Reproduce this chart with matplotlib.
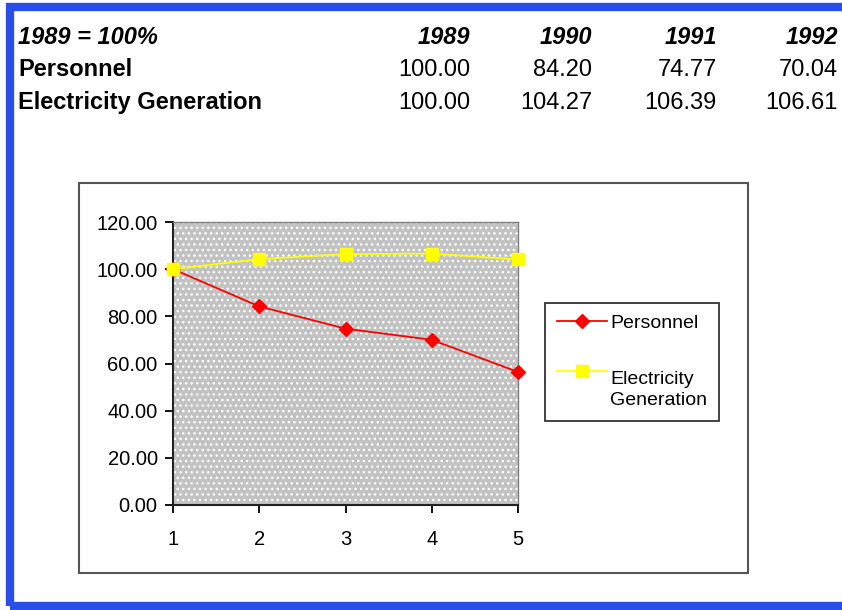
import matplotlib.pyplot as plt
from matplotlib.patches import Rectangle
from matplotlib.legend_handler import HandlerLine2D

# index values, 1989 = 100%
years = [1989, 1990, 1991, 1992]
personnel = [100.00, 84.20, 74.77, 70.04, 56.40]
electricity = [100.00, 104.27, 106.39, 106.61, 104.10]
series_names = ["Personnel", "Electricity Generation"]
legend_names = ["Personnel", "Electricity\nGeneration"]
periods = list(range(1, len(personnel) + 1))

W, H = 842, 610
fig = plt.figure(figsize=(W / 100, H / 100), dpi=100)
plt.rcParams['font.family'] = ['Liberation Sans', 'DejaVu Sans']


def fx(x):
    return x / W


def fy(y):
    return 1 - y / H


# sheet border
fig.add_artist(Rectangle((fx(9.5), fy(606)), fx(900), 599 / H, transform=fig.transFigure,
                         fill=False, edgecolor='#2a4ee8', lw=6))

# table above the chart
fs_tab = 17
fig.text(fx(18), fy(37), "1989 = 100%", fontsize=fs_tab, fontweight='bold', fontstyle='italic',
         va='center', ha='left')
fig.text(fx(18), fy(70), series_names[0], fontsize=fs_tab, fontweight='bold', va='center', ha='left')
fig.text(fx(18), fy(103), series_names[1], fontsize=fs_tab, fontweight='bold', va='center', ha='left')
col_right = [470, 592, 717, 838]
for i, yr in enumerate(years):
    fig.text(fx(col_right[i]), fy(37), str(yr), fontsize=fs_tab, fontweight='bold', fontstyle='italic',
             va='center', ha='right')
    fig.text(fx(col_right[i]), fy(70), "%.2f" % personnel[i], fontsize=fs_tab, va='center', ha='right')
    fig.text(fx(col_right[i]), fy(103), "%.2f" % electricity[i], fontsize=fs_tab, va='center', ha='right')

# chart frame
fig.add_artist(Rectangle((fx(79), fy(573)), 669 / W, 390 / H, transform=fig.transFigure,
                         fill=False, edgecolor='#555555', lw=1.5))

ax = fig.add_axes([fx(173), fy(505), 345 / W, 283 / H])
ax.patch.set_visible(False)
ax.add_patch(Rectangle((0, 0), 1, 1, transform=ax.transAxes, facecolor='#c2c2c2',
                       edgecolor='white', hatch='...', lw=0, zorder=0))

ax.plot(periods, personnel, color='#ff0000', lw=1.3, marker='D', markersize=7.5,
        clip_on=False, zorder=3, label=legend_names[0])
ax.plot(periods, electricity, color='#ffff00', lw=1.3, marker='s', markersize=8.5,
        clip_on=False, zorder=3, label=legend_names[1])

ax.set_xlim(1, 5)
ax.set_ylim(0, 120)
ax.set_xticks(periods)
ax.set_yticks(range(0, 121, 20))
ax.set_yticklabels(["%.2f" % v for v in range(0, 121, 20)])
ax.tick_params(axis='both', direction='out', length=6, width=1.3, labelsize=14.5, colors='black')
ax.tick_params(axis='x', pad=12)
ax.tick_params(axis='y', pad=5)
for s in ['left', 'bottom']:
    ax.spines[s].set_linewidth(1.5)
    ax.spines[s].set_color('#222222')
for s in ['top', 'right']:
    ax.spines[s].set_linewidth(1.0)
    ax.spines[s].set_color('#808080')


class FirstLineHandler(HandlerLine2D):
    # put the key level with the first line of a two-line label
    def create_artists(self, legend, orig_handle, xdescent, ydescent, width, height, fontsize, trans):
        return super().create_artists(legend, orig_handle, xdescent, ydescent - 1.9 * fontsize,
                                      width, height, fontsize, trans)


handles, labels = ax.get_legend_handles_labels()
leg = ax.legend(handles, labels, loc='upper left', bbox_to_anchor=(fx(545), fy(303)),
                bbox_transform=fig.transFigure, borderaxespad=0, frameon=True, fancybox=False,
                edgecolor='black', fontsize=14, handlelength=2.6, handletextpad=0.15,
                labelspacing=2.0, borderpad=0.6, numpoints=1,
                handler_map={handles[1]: FirstLineHandler()})
for t in leg.get_texts():
    t.set_linespacing(1.3)
leg.get_frame().set_linewidth(1.3)

fig.savefig("out.png", dpi=100)
